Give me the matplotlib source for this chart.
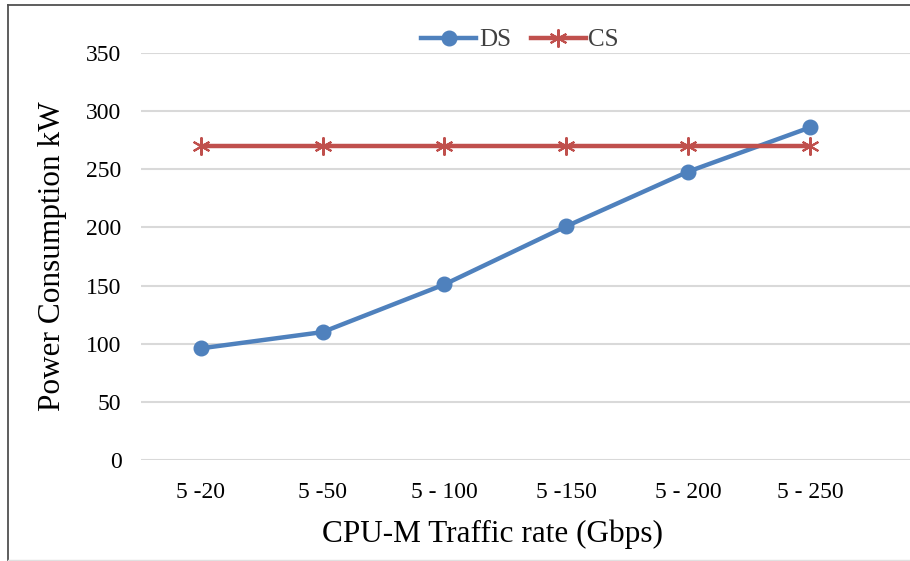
import matplotlib.pyplot as plt
from matplotlib.lines import Line2D

categories = ["5 -20", "5 -50", "5 - 100", "5 -150", "5 - 200", "5 - 250"]
ds_power = [96, 110, 151, 201, 248, 286]
cs_power = [270, 270, 270, 270, 270, 270]

plt.rcParams["font.family"] = ["Liberation Serif", "DejaVu Serif"]

fig = plt.figure(figsize=(9.10, 5.61), dpi=100)
ax = fig.add_axes([141 / 910, 101 / 561, 1 - 141 / 910, (460 - 53) / 561])

x = list(range(len(categories)))
ax.plot(x, ds_power, color="#4F81BD", lw=3.2, marker="o", markersize=10.5,
        label="DS", zorder=3)
ax.plot(x, cs_power, color="#C0504D", lw=3.2, marker=(6, 2, 0), markersize=13,
        markeredgewidth=1.5, label="CS", zorder=3)

ax.set_xlim(-0.49, 5.82)
ax.set_ylim(0, 350)
ax.set_yticks(range(0, 351, 50))
ax.set_xticks(x)
ax.set_xticklabels(categories)
ax.grid(axis="y", color="#D9D9D9", lw=1.5)
ax.set_axisbelow(True)
for s in ax.spines.values():
    s.set_visible(False)
ax.tick_params(length=0, labelsize=17)
ax.tick_params(axis="y", pad=14)
ax.tick_params(axis="x", pad=16)

ax.set_xlabel("CPU-M Traffic rate (Gbps)", fontsize=22.5)
ax.xaxis.set_label_coords((492 - 141) / 769, -0.146)
ax.set_ylabel("Power Consumption kW", fontsize=22.5, labelpad=14)

fig.legend(*ax.get_legend_handles_labels(), loc="center",
           bbox_to_anchor=(520 / 910, 1 - 40 / 561), ncol=2,
           frameon=False, fontsize=18, handlelength=2.2, columnspacing=0.8,
           handletextpad=0.1, labelcolor="#404040")

# outer chart frame: dark left/top edges, faint bottom edge
W, H = 910, 561
fig.add_artist(Line2D([8 / W, 8 / W], [0, 1 - 5 / H], color="#505050", lw=1.3))
fig.add_artist(Line2D([8 / W, 1], [1 - 5 / H, 1 - 5 / H], color="#505050", lw=1.3))
fig.add_artist(Line2D([8 / W, 1], [1.5 / H, 1.5 / H], color="#E0E0E0", lw=1.0))

fig.savefig("out.png", dpi=100)
